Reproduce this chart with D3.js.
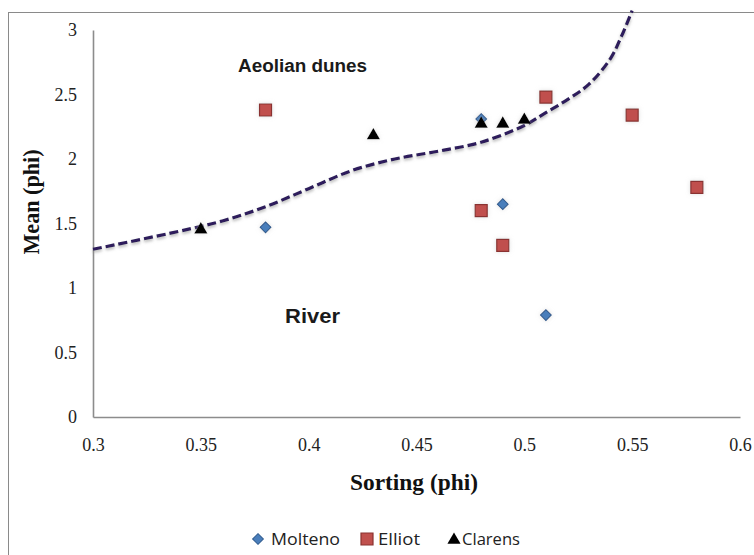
<!DOCTYPE html>
<html><head><meta charset="utf-8">
<script src="https://cdn.jsdelivr.net/npm/d3@7"></script>
<style>body{margin:0;background:#fff}svg{display:block}</style>
</head><body><svg id="c" width="754" height="555"></svg>
<script>
const xTicks = [0.3, 0.35, 0.4, 0.45, 0.5, 0.55, 0.6];
const yTicks = [0, 0.5, 1, 1.5, 2, 2.5, 3];
const moltenoX = [0.38, 0.49, 0.51, 0.48];
const moltenoY = [1.47, 1.65, 0.79, 2.31];
const elliotX = [0.38, 0.51, 0.55, 0.58, 0.48, 0.49];
const elliotY = [2.38, 2.48, 2.34, 1.78, 1.60, 1.33];
const clarensX = [0.35, 0.43, 0.48, 0.49, 0.50];
const clarensY = [1.46, 2.19, 2.28, 2.28, 2.31];
const boundaryX = [0.30, 0.34, 0.36, 0.38, 0.40, 0.42, 0.44, 0.46, 0.48, 0.50, 0.51, 0.52, 0.53, 0.54, 0.545, 0.55];
const boundaryY = [1.30, 1.44, 1.52, 1.63, 1.77, 1.91, 2.00, 2.06, 2.13, 2.26, 2.36, 2.46, 2.58, 2.78, 2.95, 3.15];
const seriesNames = ["Molteno", "Elliot", "Clarens"];

const svg = d3.select("#c");
const x = d3.scaleLinear().domain([0.3, 0.6]).range([93, 740]);
const y = d3.scaleLinear().domain([0, 3]).range([417, 30]);

// figure border
svg.append("rect").attr("x", 8.5).attr("y", 12.5).attr("width", 760).attr("height", 560)
  .attr("fill", "none").attr("stroke", "#8a8a8a").attr("stroke-width", 1);

const defs = svg.append("defs");
const f = defs.append("filter").attr("id", "sh").attr("x", "-10%").attr("y", "-10%").attr("width", "120%").attr("height", "140%");
f.append("feDropShadow").attr("dx", 0).attr("dy", 2).attr("stdDeviation", 1.5).attr("flood-color", "#888").attr("flood-opacity", 0.6);
const fm = defs.append("filter").attr("id", "msh").attr("x", "-50%").attr("y", "-50%").attr("width", "200%").attr("height", "200%");
fm.append("feDropShadow").attr("dx", 0).attr("dy", 0).attr("stdDeviation", 2).attr("flood-color", "#bbb").attr("flood-opacity", 0.5);

// axes
const xAxis = d3.axisBottom(x).tickValues(xTicks).tickSize(0).tickPadding(21).tickFormat(d => String(+d.toFixed(2)));
const gx = svg.append("g").attr("transform", "translate(0,417)").call(xAxis);
const yAxis = d3.axisLeft(y).tickValues(yTicks).tickSize(0).tickPadding(16).tickFormat(d => String(d));
const gy = svg.append("g").attr("transform", "translate(93,0)").call(yAxis);
[gx, gy].forEach(g => {
  g.attr("font-size", 18).attr("font-family", "Liberation Serif, serif");
  g.select(".domain").attr("stroke", "#8c8c8c").attr("stroke-width", 1.6);
  g.selectAll("text").attr("fill", "#222");
});
gx.selectAll("text").attr("dy", "0.71em");

// boundary curve
const pts = boundaryX.map((d, i) => [d, boundaryY[i]]);
const line = d3.line().x(d => x(d[0])).y(d => y(d[1])).curve(d3.curveCatmullRom.alpha(0.5));
svg.append("path").attr("d", line(pts)).attr("fill", "none").attr("stroke", "#2d1f5c")
  .attr("stroke-width", 3.2).attr("stroke-dasharray", "9,4").attr("filter", "url(#sh)");

// region labels
svg.append("text").attr("x", 238).attr("y", 72)
  .attr("font-family", "Liberation Sans, Arial, sans-serif").attr("font-weight", "bold").attr("font-size", 18)
  .attr("textLength", 129).attr("lengthAdjust", "spacingAndGlyphs").attr("fill", "#1a1a1a").text("Aeolian dunes");
svg.append("text").attr("x", 285).attr("y", 323)
  .attr("font-family", "Liberation Sans, Arial, sans-serif").attr("font-weight", "bold").attr("font-size", 21)
  .attr("textLength", 55).attr("lengthAdjust", "spacingAndGlyphs").attr("fill", "#1a1a1a").text("River");

// markers
const square = (s) => `M${-s/2},${-s/2}h${s}v${s}h${-s}Z`;
const tri = d3.symbol().type(d3.symbolTriangle).size(75);

function drawM(g, kind) {
  if (kind === 0) {
    g.append("path").attr("d", d3.symbol().type(d3.symbolSquare).size(58)()).attr("transform", "rotate(45)")
      .attr("fill", "#4a7ebb").attr("stroke", "#2f5b8e").attr("stroke-width", 1);
  } else if (kind === 1) {
    g.append("path").attr("d", square(12)).attr("fill", "#c0504d").attr("stroke", "#8a3330").attr("stroke-width", 1.2);
  } else {
    g.append("path").attr("d", tri()).attr("transform", "translate(0,1)").attr("fill", "#000");
  }
}
const groups = [[moltenoX, moltenoY, 0], [elliotX, elliotY, 1], [clarensX, clarensY, 2]];
groups.forEach(([xs, ys, k]) => {
  xs.forEach((d, i) => {
    const g = svg.append("g").attr("transform", `translate(${x(d)},${y(ys[i])})`).attr("filter", "url(#msh)");
    drawM(g, k);
  });
});

// axis titles
svg.append("text").attr("x", 414).attr("y", 490).attr("text-anchor", "middle")
  .attr("font-family", "Liberation Serif, serif").attr("font-weight", "bold").attr("font-size", 23)
  .attr("textLength", 128).attr("lengthAdjust", "spacingAndGlyphs").attr("fill", "#111").text("Sorting (phi)");
svg.append("text").attr("transform", "translate(39,202) rotate(-90)").attr("text-anchor", "middle")
  .attr("font-family", "Liberation Serif, serif").attr("font-weight", "bold").attr("font-size", 23)
  .attr("textLength", 105).attr("lengthAdjust", "spacingAndGlyphs").attr("fill", "#111").text("Mean (phi)");

// legend
const legX = [258, 367, 454];
const legW = [69, 42, 58];
seriesNames.forEach((n, i) => {
  const g = svg.append("g").attr("transform", `translate(${legX[i]},539)`);
  drawM(g, i);
  g.append("text").attr("x", i === 2 ? 8 : (i === 0 ? 13 : 11)).attr("y", 6)
    .attr("font-family", "Open Sans, sans-serif").attr("font-size", 17)
    .attr("textLength", legW[i]).attr("lengthAdjust", "spacingAndGlyphs").attr("fill", "#222").text(n);
});
</script></body></html>
